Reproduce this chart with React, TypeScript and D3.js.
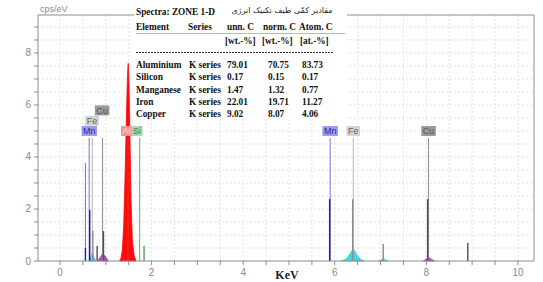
import React from 'react';
import * as d3 from 'd3';

// element line markers: energy (keV) and drawn height (cps/eV)
const markerEl = ['Mn', 'Mn', 'Mn', 'Mn', 'Mn', 'Mn', 'Fe', 'Fe', 'Fe', 'Fe', 'Fe', 'Cu', 'Cu', 'Cu', 'Cu', 'Cu', 'Cu', 'Al', 'Si', 'Si'];
const markerKeV = [0.556, 0.556, 0.637, 0.649, 5.899, 5.888, 0.705, 0.718, 6.404, 6.391, 7.058, 0.811, 0.930, 0.950, 8.048, 8.028, 8.905, 1.486, 1.740, 1.836];
const markerCps = [3.77, 0.5, 4.73, 1.96, 4.73, 2.38, 4.73, 1.15, 4.73, 2.38, 0.65, 0.58, 4.73, 1.15, 4.73, 2.38, 0.7, 4.73, 4.73, 0.58];

// labels, placed over the line groups (keV of label centre)
const labelEl = ['Mn', 'Fe', 'Cu', 'Al', 'Si', 'Mn', 'Fe', 'Cu'];
const labelKeV = [0.64, 0.70, 0.92, 1.452, 1.681, 5.899, 6.404, 8.048];

// fitted spectrum peaks [keV, cps/eV]
const alPeak: [number, number][] = [[1.30, 0], [1.33, 0.1], [1.36, 0.4], [1.39, 1.3], [1.42, 3.2], [1.45, 5.6], [1.475, 7.2], [1.49, 7.6], [1.505, 7.0], [1.53, 4.6], [1.55, 2.4], [1.58, 0.8], [1.62, 0.2], [1.66, 0]];
const feLPeak: [number, number][] = [[0.63, 0], [0.67, 0.15], [0.70, 0.3], [0.73, 0.2], [0.78, 0]];
const feKaPeak: [number, number][] = [[6.15, 0], [6.25, 0.08], [6.32, 0.25], [6.38, 0.42], [6.41, 0.46], [6.45, 0.34], [6.50, 0.18], [6.58, 0.05], [6.66, 0]];
const feKbPeak: [number, number][] = [[6.96, 0], [7.03, 0.06], [7.06, 0.1], [7.10, 0.05], [7.17, 0]];
const cuLPeak: [number, number][] = [[0.82, 0], [0.88, 0.14], [0.93, 0.3], [0.98, 0.2], [1.06, 0]];
const cuKPeak: [number, number][] = [[7.93, 0], [8.00, 0.08], [8.05, 0.14], [8.10, 0.08], [8.18, 0]];

// quantification table
const tableElements = ['Aluminium', 'Silicon', 'Manganese', 'Iron', 'Copper'];
const tableSeries = ['K series', 'K series', 'K series', 'K series', 'K series'];
const unnC = ['79.01', '0.17', '1.47', '22.01', '9.02'];
const normC = ['70.75', '0.15', '1.32', '19.71', '8.07'];
const atomC = ['83.73', '0.17', '0.77', '11.27', '4.06'];

const xTicks = d3.range(0, 10.01, 0.5);
const yTicks = d3.range(0, 9.01, 0.5);
const xLabels = [0, 2, 4, 6, 8, 10];
const yLabels = [0, 2, 4, 6, 8];

const colors: Record<string, { light: string; dark: string; bg: string; text: string }> = {
  Mn: { light: '#7272da', dark: '#1e1e8e', bg: '#9c9cec', text: '#2a2aa0' },
  Fe: { light: '#b4b4b4', dark: '#8c8c8c', bg: '#d2d2d2', text: '#666' },
  Cu: { light: '#8a8a8a', dark: '#4e4e4e', bg: '#9a9a9a', text: '#555' },
  Al: { light: '#e83030', dark: '#e83030', bg: '#f29494', text: '#f8dede' },
  Si: { light: '#6aa86a', dark: '#5a9a5a', bg: '#acd8ac', text: '#3e7e3e' },
};

const charW: Record<string, number> = { M: 7.5, n: 5, F: 5.5, e: 5, C: 6.5, u: 5, A: 6, l: 2, S: 6, i: 2 };

const App = () => {
  const x = d3.scaleLinear().domain([-0.48, 10.35]).range([38, 534]);
  const y = d3.scaleLinear().domain([0, 9.46]).range([261, 15]);
  const area = d3.area<[number, number]>().x(d => x(d[0])).y0(y(0)).y1(d => y(d[1]));

  // stack labels so they do not overlap
  const placed: { x0: number; x1: number; level: number }[] = [];
  const labels = labelEl.map((el, i) => {
    const cx = x(labelKeV[i]);
    const w = el.split('').reduce((s, c) => s + (charW[c] || 5), 0) + 3;
    const x0 = cx - w / 2, x1 = cx + w / 2;
    let level = 0;
    while (placed.some(p => p.level === level && p.x1 - 1 > x0 && p.x0 < x1 - 1)) level++;
    placed.push({ x0, x1, level });
    return { el, cx, w, level };
  });
  const labelBottom = y(4.73) - 2;

  const rowY = (i: number) => 68 + i * 12.3;
  const serif = '"Liberation Serif", "Times New Roman", serif';
  const sans = '"Liberation Sans", Arial, sans-serif';

  return (
    <svg width={543} height={282} style={{ position: 'absolute', left: 0, top: 0, background: '#fff' }}>
      {/* grid */}
      <g stroke="#e2e2e2" strokeDasharray="2,2" strokeWidth={1}>
        {xTicks.map(t => <line key={'gx' + t} x1={x(t)} x2={x(t)} y1={y(9.46)} y2={y(0)} />)}
        {yTicks.slice(1).map(t => <line key={'gy' + t} x1={38} x2={534} y1={y(t)} y2={y(t)} />)}
      </g>

      {/* fitted peaks */}
      <path d={area(alPeak) || ''} fill="#ff0a0a" stroke="#ff0a0a" strokeWidth={0.8} />
      {[feLPeak, feKaPeak, feKbPeak].map((p, i) => <path key={'fe' + i} d={area(p) || ''} fill="#3adbe4" stroke="#2cc6d0" strokeWidth={0.6} />)}
      {[cuLPeak, cuKPeak].map((p, i) => <path key={'cu' + i} d={area(p) || ''} fill="#c040c0" stroke="#b030b0" strokeWidth={0.6} />)}

      {/* element marker lines */}
      {markerEl.map((el, i) => {
        const c = colors[el];
        const strong = markerCps[i] > 3;
        return (
          <line key={'m' + i} x1={x(markerKeV[i])} x2={x(markerKeV[i])} y1={y(0)} y2={y(markerCps[i])}
            stroke={strong ? c.light : c.dark} strokeWidth={strong ? 1 : 1.4} />
        );
      })}

      {/* labels */}
      {labels.map((l, i) => {
        const c = colors[l.el];
        const top = labelBottom - 10 - l.level * 10.3;
        return (
          <g key={'l' + i}>
            <rect x={l.cx - l.w / 2} y={top} width={l.w} height={10} fill={c.bg} />
            <text x={l.cx} y={top + 8.3} textAnchor="middle" fontFamily={sans} fontSize={9} fill={c.text}>{l.el}</text>
          </g>
        );
      })}

      {/* frame */}
      <g stroke="#8c8c8c" strokeWidth={1} fill="none">
        <line x1={38} x2={534} y1={15} y2={15} />
        <line x1={534} x2={534} y1={15} y2={261} />
        <line x1={38} x2={38} y1={15} y2={261} />
        <line x1={38} x2={534} y1={261} y2={261} />
      </g>

      {/* axes ticks */}
      <g stroke="#8c8c8c" strokeWidth={1}>
        {xTicks.map(t => <line key={'tx' + t} x1={x(t)} x2={x(t)} y1={261} y2={265} />)}
        {yTicks.map(t => <line key={'ty' + t} x1={34} x2={38} y1={y(t)} y2={y(t)} />)}
      </g>
      <g fontFamily={sans} fontSize={10} fill="#8a8a8a">
        {xLabels.map(t => <text key={'xl' + t} x={x(t)} y={276} textAnchor="middle">{t}</text>)}
        {yLabels.map(t => <text key={'yl' + t} x={31} y={y(t) + 3.5} textAnchor="end">{t}</text>)}
        <text x={40} y={12} fontSize={9}>cps/eV</text>
      </g>
      <text x={287} y={279} textAnchor="middle" fontFamily={serif} fontWeight="bold" fontSize={12} fill="#222">KeV</text>

      {/* quantification table */}
      <rect x={134} y={0} width={213} height={119} fill="#fff" />
      <g fontFamily={serif} fontWeight="bold" fontSize={9.3} fill="#111">
        <text x={136} y={15}>Spectra: ZONE 1-D</text>
        <text x={136} y={30}>Element</text>
        <text x={188} y={30}>Series</text>
        <text x={227} y={30}>unn. C</text>
        <text x={263} y={30}>norm. C</text>
        <text x={299} y={30}>Atom. C</text>
        <text x={225} y={44}>[wt.-%]</text>
        <text x={262} y={44}>[wt.-%]</text>
        <text x={300} y={44}>[at.-%]</text>
        {tableElements.map((e, i) => (
          <g key={'row' + i}>
            <text x={136} y={rowY(i)}>{e}</text>
            <text x={189} y={rowY(i)}>{tableSeries[i]}</text>
            <text x={227} y={rowY(i)}>{unnC[i]}</text>
            <text x={268} y={rowY(i)}>{normC[i]}</text>
            <text x={302} y={rowY(i)}>{atomC[i]}</text>
          </g>
        ))}
      </g>
      <text x={282} y={13} textAnchor="middle" fontFamily='"DejaVu Sans", sans-serif' fontSize={8} fill="#222">مقادیر کمّی طیف تکنیک انرژی</text>
      <line x1={136} x2={345} y1={33.5} y2={33.5} stroke="#8aa88a" strokeWidth={0.7} />
      <line x1={136} x2={333} y1={52.5} y2={52.5} stroke="#333" strokeWidth={1} strokeDasharray="2,1" />
    </svg>
  );
};

export default App;
